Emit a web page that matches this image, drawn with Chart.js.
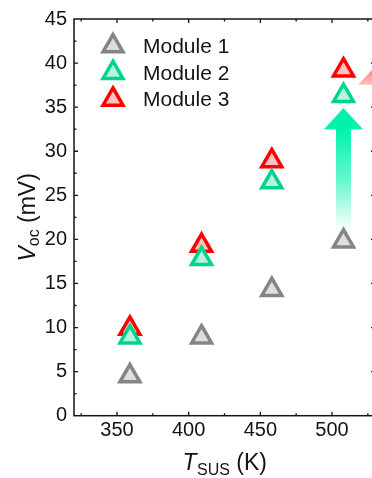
<!DOCTYPE html>
<html>
<head>
<meta charset="utf-8">
<script src="https://cdn.jsdelivr.net/npm/chart.js@4.4.1/dist/chart.umd.min.js"></script>
<style>
  html, body { margin: 0; padding: 0; background: #fff; overflow: hidden; }
  #wrap { width: 400px; height: 478px; }
</style>
</head>
<body>
<div id="wrap"><canvas id="c" width="400" height="478"></canvas></div>
<script>
// Substrate temperature (K) and open-circuit voltage (mV) of each module
const temperatures = [359, 409, 458, 508];
const module1 = [4.5, 8.9, 14.3, 19.8];
const module2 = [8.9, 17.8, 26.5, 36.3];
const module3 = [9.9, 19.3, 28.9, 39.2];
const seriesNames = ['Module 1', 'Module 2', 'Module 3'];
const xTickValues = [350, 400, 450, 500];
const yTickValues = [0, 5, 10, 15, 20, 25, 30, 35, 40, 45];

const FONT = "'Liberation Sans', Arial, Helvetica, sans-serif";
const INK = '#141414';
const MARK_R = 11.5;
const MARK_W = 3.5;

const styles = [
  { stroke: '#858585', fill: '#dedede' },
  { stroke: '#00d48a', fill: '#b5f4dd' },
  { stroke: '#ff0000', fill: '#ffc2c2' }
];

function toPoints(ys) {
  return temperatures.map((t, i) => ({ x: t, y: ys[i] }));
}

function triangle(ctx, x, y, r) {
  ctx.beginPath();
  ctx.moveTo(x, y - r);
  ctx.lineTo(x + 0.8660254 * r, y + 0.5 * r);
  ctx.lineTo(x - 0.8660254 * r, y + 0.5 * r);
  ctx.closePath();
}

// Box frame with inward major/minor ticks on all four sides
const frameAndTicks = {
  id: 'frameAndTicks',
  beforeDatasetsDraw(chart) {
    const { ctx, chartArea: a, scales: { x, y } } = chart;
    ctx.save();
    ctx.strokeStyle = INK;
    ctx.lineWidth = 1.5;
    ctx.strokeRect(a.left, a.top, a.right - a.left, a.bottom - a.top);
    ctx.lineWidth = 1.3;
    ctx.beginPath();
    for (let v = 325; v <= 530; v += 25) {
      const len = v % 50 === 0 ? 4 : 2.5;
      const px = x.getPixelForValue(v);
      ctx.moveTo(px, a.bottom); ctx.lineTo(px, a.bottom - len);
      ctx.moveTo(px, a.top); ctx.lineTo(px, a.top + len);
    }
    for (let v = 2.5; v < 45; v += 2.5) {
      const len = v % 5 === 0 ? 4 : 2.5;
      const py = y.getPixelForValue(v);
      ctx.moveTo(a.left, py); ctx.lineTo(a.left + len, py);
      ctx.moveTo(a.right, py); ctx.lineTo(a.right - len, py);
    }
    ctx.stroke();
    ctx.restore();
  }
};

// Gradient arrows marking the voltage gain
const gainArrows = {
  id: 'gainArrows',
  beforeDatasetsDraw(chart) {
    const { ctx, chartArea: a, scales: { x, y } } = chart;
    ctx.save();
    // green arrow at the hottest point
    const cx = x.getPixelForValue(508);
    const tip = y.getPixelForValue(34.9);
    const base = y.getPixelForValue(32.5);
    const tail = y.getPixelForValue(21.0);
    const g = ctx.createLinearGradient(0, base, 0, tail);
    g.addColorStop(0, 'rgba(0,242,172,1)');
    g.addColorStop(0.5, 'rgba(0,242,172,0.6)');
    g.addColorStop(1, 'rgba(0,242,172,0)');
    ctx.fillStyle = g;
    ctx.fillRect(cx - 7.5, base - 0.5, 15, tail - base + 0.5);
    ctx.fillStyle = 'rgb(0,242,172)';
    ctx.beginPath();
    ctx.moveTo(cx, tip);
    ctx.lineTo(cx + 19.5, base);
    ctx.lineTo(cx - 19.5, base);
    ctx.closePath();
    ctx.fill();
    // red arrow head just beyond the right frame
    const rx = a.right + 2.5;
    const rtip = y.getPixelForValue(39.9);
    const rbase = y.getPixelForValue(37.55);
    const rg = ctx.createLinearGradient(0, rtip, 0, rbase);
    rg.addColorStop(0, 'rgba(255,85,85,0.95)');
    rg.addColorStop(1, 'rgba(255,150,150,0.6)');
    ctx.fillStyle = rg;
    ctx.beginPath();
    ctx.moveTo(rx, rtip);
    ctx.lineTo(rx + 19.5, rbase);
    ctx.lineTo(rx - 19.5, rbase);
    ctx.closePath();
    ctx.fill();
    ctx.restore();
  }
};

// Legend in the upper-left corner of the plot
const innerLegend = {
  id: 'innerLegend',
  afterDraw(chart) {
    const { ctx, chartArea: a } = chart;
    ctx.save();
    seriesNames.forEach((name, i) => {
      const my = a.top + 27 + i * 26.7;
      ctx.lineWidth = MARK_W;
      ctx.strokeStyle = styles[i].stroke;
      ctx.fillStyle = styles[i].fill;
      triangle(ctx, a.left + 39, my, MARK_R);
      ctx.fill();
      ctx.stroke();
      ctx.fillStyle = INK;
      ctx.font = '21px ' + FONT;
      ctx.textBaseline = 'alphabetic';
      ctx.textAlign = 'left';
      ctx.fillText(name, a.left + 69, a.top + 34 + i * 26.7);
    });
    ctx.restore();
  }
};

// Axis titles with italic symbols and subscripts
const axisTitles = {
  id: 'axisTitles',
  afterDraw(chart) {
    const { ctx, chartArea: a } = chart;
    ctx.save();
    ctx.fillStyle = INK;
    ctx.textBaseline = 'alphabetic';
    ctx.textAlign = 'left';
    const parts = (main, sub, rest) => {
      ctx.font = 'italic 23px ' + FONT;
      const w1 = ctx.measureText(main).width;
      ctx.font = '16px ' + FONT;
      const w2 = ctx.measureText(sub).width;
      ctx.font = '23px ' + FONT;
      const w3 = ctx.measureText(rest).width;
      return [w1, w2, w3];
    };
    // x title
    let [w1, w2, w3] = parts('T', 'SUS', ' (K)');
    let sx = (a.left + a.right) / 2 - (w1 + w2 + w3) / 2;
    const by = 470;
    ctx.font = 'italic 23px ' + FONT; ctx.fillText('T', sx, by);
    ctx.font = '16px ' + FONT; ctx.fillText('SUS', sx + w1 + 0.5, by + 5);
    ctx.font = '23px ' + FONT; ctx.fillText(' (K)', sx + w1 + w2 + 0.5, by);
    // y title
    [w1, w2, w3] = parts('V', 'oc', ' (mV)');
    ctx.translate(35, (a.top + a.bottom) / 2);
    ctx.rotate(-Math.PI / 2);
    sx = -(w1 + w2 + w3) / 2;
    ctx.font = 'italic 23px ' + FONT; ctx.fillText('V', sx, 0);
    ctx.font = '16px ' + FONT; ctx.fillText('oc', sx + w1, 4);
    ctx.font = '23px ' + FONT; ctx.fillText(' (mV)', sx + w1 + w2, 0);
    ctx.restore();
  }
};

const datasets = [module1, module2, module3].map((vals, i) => ({
  label: seriesNames[i],
  data: toPoints(vals),
  showLine: false,
  pointStyle: 'triangle',
  pointRadius: MARK_R,
  pointHoverRadius: MARK_R,
  pointBorderWidth: MARK_W,
  pointHoverBorderWidth: MARK_W,
  borderColor: styles[i].stroke,
  backgroundColor: styles[i].fill,
  clip: false
}));

new Chart(document.getElementById('c'), {
  type: 'scatter',
  data: { datasets },
  options: {
    responsive: false,
    animation: false,
    events: [],
    layout: { padding: { top: 16, left: 0, right: 25, bottom: 0 } },
    plugins: { legend: { display: false }, tooltip: { enabled: false } },
    scales: {
      x: {
        type: 'linear',
        min: 320,
        max: 530,
        afterBuildTicks: s => { s.ticks = xTickValues.map(v => ({ value: v })); },
        afterFit: s => { s.height = 62.3; },
        grid: { display: false, drawTicks: false },
        border: { display: false },
        ticks: { font: { family: FONT, size: 20 }, color: INK, padding: 3, maxRotation: 0 }
      },
      y: {
        type: 'linear',
        min: 0,
        max: 45,
        afterBuildTicks: s => { s.ticks = yTickValues.map(v => ({ value: v })); },
        afterFit: s => { s.width = 74; },
        grid: { display: false, drawTicks: false },
        border: { display: false },
        ticks: { font: { family: FONT, size: 20 }, color: INK, padding: 7 }
      }
    }
  },
  plugins: [frameAndTicks, gainArrows, innerLegend, axisTitles]
});
</script>
</body>
</html>
